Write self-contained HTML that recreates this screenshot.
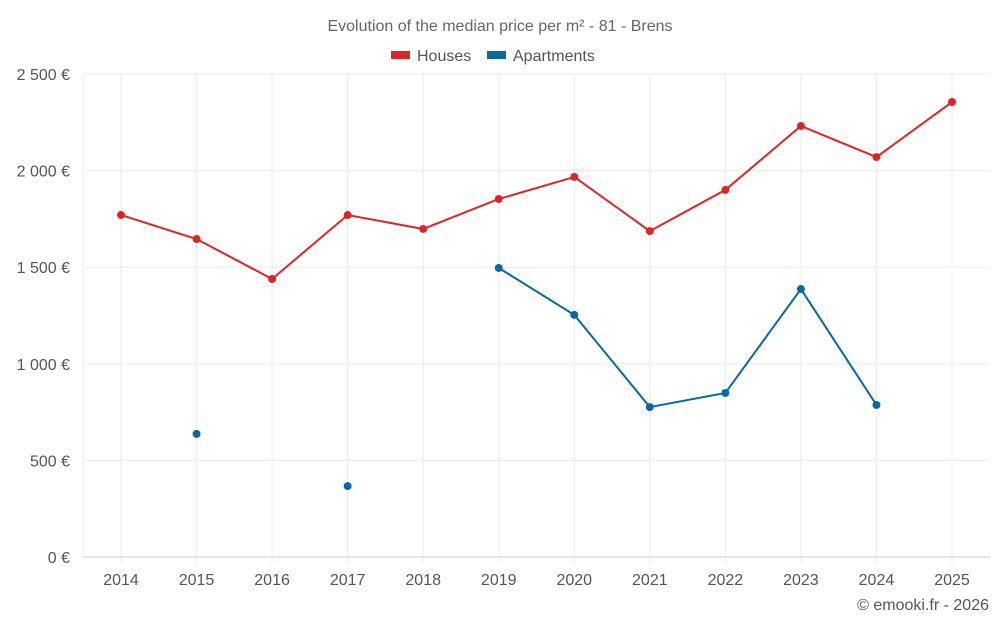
<!DOCTYPE html>
<html><head><meta charset="utf-8"><style>
body{margin:0;background:#fff;font-family:"Liberation Sans",sans-serif}
svg text{font-family:"Liberation Sans",sans-serif}
</style></head><body>
<svg id="c" width="1000" height="625">
<text x="500" y="31" text-anchor="middle" font-size="16" fill="#666">Evolution of the median price per m² - 81 - Brens</text>
<g>
<g><rect x="391" y="51" width="19" height="8" fill="#dc2626"/><text x="417" y="61" font-size="16" fill="#555">Houses</text></g>
<g><rect x="487" y="51" width="19" height="8" fill="#0868a0"/><text x="513" y="61" font-size="16" fill="#555">Apartments</text></g>
</g>
<g id="grid"></g><g id="axes"></g><g id="series"></g>
<text x="989" y="610" text-anchor="end" font-size="16" fill="#555">© emooki.fr - 2026</text>
</svg>
<script>
const years=[2014,2015,2016,2017,2018,2019,2020,2021,2022,2023,2024,2025];
const houses=[1770,1646,1439,1770,1698,1853,1967,1687,1900,2231,2070,2355];
const apartments=[null,637,null,367,null,1496,1253,776,849,1387,787,null];
const yTicks=[0,500,1000,1500,2000,2500];
const yLabels=["0 €","500 €","1 000 €","1 500 €","2 000 €","2 500 €"];
const NS="http://www.w3.org/2000/svg";
const x=i=>121+i*(952-121)/(years.length-1);
const y=v=>557-v*(557-74)/2500;
function mk(t,a,p){const e=document.createElementNS(NS,t);for(const k in a)e.setAttribute(k,a[k]);p.appendChild(e);return e;}
const grid=document.getElementById('grid'),axes=document.getElementById('axes'),ser=document.getElementById('series');
yTicks.forEach((v,i)=>{
 const l=mk('line',{x1:83,x2:990,y1:y(v),y2:y(v),stroke:i==0?'#ccc':'#ebebeb'},grid);
 
 
 const t=mk('text',{x:70,y:y(v)+6,'text-anchor':'end','font-size':16,fill:'#555'},axes);t.textContent=yLabels[i];
 
 
});
const bl=mk('line',{x1:83,x2:83,y1:74,y2:557,stroke:'#ebebeb'},grid);


years.forEach((yr,i)=>{
 const l=mk('line',{x1:x(i),x2:x(i),y1:74,y2:563,stroke:'#ebebeb'},grid);
 
 
 const t=mk('text',{x:x(i),y:585,'text-anchor':'middle','font-size':16,fill:'#555'},axes);t.textContent=yr;
 
 
});
function draw(vals,col,name){
 let seg=[];const segs=[];
 vals.forEach((v,i)=>{if(v==null){if(seg.length)segs.push(seg);seg=[];}else seg.push([x(i),y(v)]);});
 if(seg.length)segs.push(seg);
 segs.forEach(s=>{if(s.length>1){const p=mk('polyline',{points:s.map(q=>q.join(',')).join(' '),fill:'none',stroke:col,'stroke-width':2},ser);
 
 }});
 vals.forEach((v,i)=>{if(v==null)return;const c=mk('circle',{cx:x(i),cy:y(v),r:4,fill:col},ser);
 
 });
}
draw(houses,'#dc2626','houses');
draw(apartments,'#0868a0','apartments');
</script>
</body></html>
